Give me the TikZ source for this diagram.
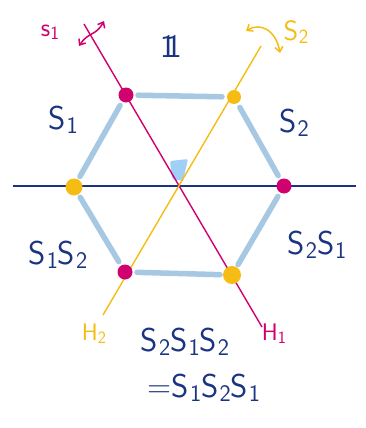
\documentclass[tikz,border=0pt]{standalone}
\usepackage{graphicx}
\usetikzlibrary{arrows.meta}
\definecolor{mag}{RGB}{208,0,110}
\definecolor{yel}{RGB}{245,188,20}
\definecolor{dblue}{RGB}{26,52,130}
\definecolor{lblue}{RGB}{166,200,226}
\definecolor{sqblue}{RGB}{160,208,245}
\newcommand{\ssub}[1]{\raisebox{-0.28ex}{\scalebox{0.72}{#1}}}
\newcommand{\Sgen}[1]{S\kern0.03em\ssub{#1}}
\tikzset{
  vtx/.style={circle,inner sep=0pt,minimum size=15pt},
  edge/.style={lblue,line width=5.5pt,line cap=round,shorten <=12pt,shorten >=12pt},
  lbl/.style={dblue,font=\sffamily\fontsize{33}{35}\selectfont,inner sep=0pt},
  small/.style={font=\sffamily\fontsize{24}{26}\selectfont,inner sep=0pt},
  flip/.style={line width=1.5pt,{Straight Barb[length=5pt,width=8pt]}-{Straight Barb[length=5pt,width=8pt]}}
}
\begin{document}
\begin{tikzpicture}[x=1pt,y=-1pt]
\useasboundingbox (0,0) rectangle (366,428);
% vertices
\coordinate (v1) at (126,95);
\coordinate (v2) at (234,97);
\coordinate (v3) at (284,186);
\coordinate (v4) at (232,275);
\coordinate (v5) at (125,272);
\coordinate (v6) at (74,187);
% hexagon edges
\draw[edge] (v1) -- (v2);
\draw[edge] (v2) -- (v3);
\draw[edge] (v3) -- (v4);
\draw[edge] (v4) -- (v5);
\draw[edge] (v5) -- (v6);
\draw[edge] (v6) -- (v1);
% centre mark
\fill[sqblue,rounded corners=2pt] (170,161) -- (188,159) -- (183,181) -- (172,179) -- cycle;
% mirror lines
\coordinate (h0) at (13,186);
\coordinate (h1) at (356,186);
\draw[dblue,line width=1.6pt] (h0) -- (h1);
\coordinate (m0) at (84,24);
\coordinate (m1) at (262,327);
\draw[mag,line width=1.4pt] (m0) -- (m1);
\coordinate (y0) at (261,46);
\coordinate (y1) at (103,315);
\draw[yel,line width=1.4pt] (y0) -- (y1);
% vertex dots
\node[vtx,fill=mag] (d1) at (v1) {};
\node[vtx,fill=yel,minimum size=14pt] (d2) at (v2) {};
\node[vtx,fill=mag] (d3) at (v3) {};
\node[vtx,fill=yel,minimum size=18pt] (d4) at (v4) {};
\node[vtx,fill=mag] (d5) at (v5) {};
\node[vtx,fill=yel,minimum size=17pt] (d6) at (v6) {};
% flip arrows
\coordinate (fa) at (79,46);
\coordinate (fb) at (104,21);
\draw[mag,flip] (fa) .. controls (88,32) and (96,36) .. (fb);
\coordinate (ga) at (246,31);
\coordinate (gb) at (280,53);
\draw[yel,flip] (ga) .. controls (260,22) and (276,30) .. (gb);
% labels
\node[small,mag,font=\sffamily\fontsize{26}{28}\selectfont] (ls1) at (50,32) {s\ssub{1}};
\node[small,yel,font=\sffamily\fontsize{28}{30}\selectfont] (ls2) at (296,32) {\Sgen{2}};
\node[small,yel] (lh2) at (94,334) {H\ssub{2}};
\node[small,mag] (lh1) at (274,334) {H\ssub{1}};
\node[lbl] (id) at (171,46) {1\kern-0.3em1};
\node[lbl] (a1) at (63,120) {\Sgen{1}};
\node[lbl] (a2) at (294,123) {\Sgen{2}};
\node[lbl] (a3) at (58,255) {\Sgen{1}\Sgen{2}};
\node[lbl] (a4) at (317,245) {\Sgen{2}\Sgen{1}};
\node[lbl] (a5) at (185,342) {\Sgen{2}\Sgen{1}\Sgen{2}};
\node[lbl] (a6) at (204,388) {=\Sgen{1}\Sgen{2}\Sgen{1}};
\end{tikzpicture}
\end{document}
